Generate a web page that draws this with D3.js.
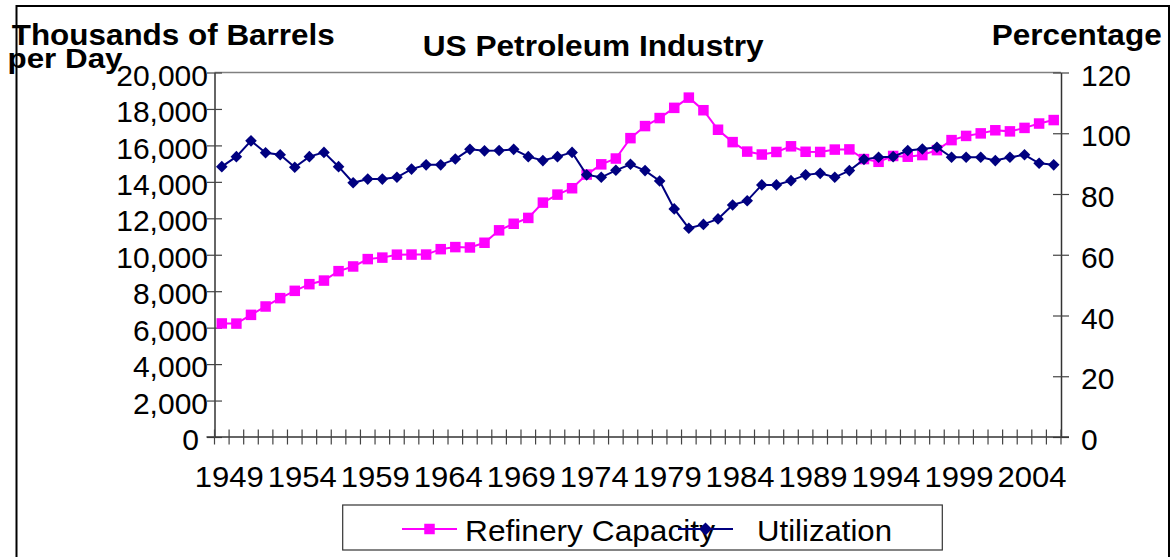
<!DOCTYPE html>
<html>
<head>
<meta charset="utf-8">
<script src="https://cdn.jsdelivr.net/npm/d3@7"></script>
<style>
  html, body { margin: 0; padding: 0; background: #fff; }
  svg { display: block; font-family: "Liberation Sans", Arial, sans-serif; }
</style>
</head>
<body>
<svg id="chart" width="1172" height="557"></svg>
<script>
const years = d3.range(1949, 2007).map(String);
const xTickLabels = ["1949","1954","1959","1964","1969","1974","1979","1984","1989","1994","1999","2004"];
const capacity = [6231,6223,6702,7161,7620,8020,8386,8583,9100,9357,9761,9843,10004,10010,10010,10306,10420,10400,10658,11340,11700,12021,12860,13300,13650,14400,14961,15280,16398,17060,17500,18060,18621,17930,16859,16180,15660,15500,15640,15950,15650,15640,15770,15780,15250,15100,15420,15380,15470,15740,16290,16520,16660,16830,16770,16960,17200,17390];
const utilization = [89.0,92.3,97.5,93.6,92.9,88.8,92.3,93.7,89.0,83.7,84.9,84.9,85.5,88.2,89.6,89.6,91.5,94.7,94.2,94.3,94.7,92.3,91.0,92.3,93.7,86.3,85.5,87.8,89.8,87.7,84.3,75.1,68.7,70.0,71.8,76.4,77.8,83.0,83.0,84.4,86.3,86.8,85.5,87.7,91.4,92.1,92.3,94.3,94.8,95.4,92.1,92.1,92.1,91.0,92.1,92.9,90.1,89.6];
const leftTicks = [0,2000,4000,6000,8000,10000,12000,14000,16000,18000,20000];
const rightTicks = [0,20,40,60,80,100,120];

const svg = d3.select("#chart");
const L = 214.5, R = 1061, T = 72.5, B = 437;

const x = d3.scaleBand().domain(years).range([L, R]).padding(0);
const yL = d3.scaleLinear().domain([0, 20000]).range([B, T]);
const yR = d3.scaleLinear().domain([0, 120]).range([B, T]);
const cx = d => x(d) + x.bandwidth() / 2;

// outer frame
svg.append("rect").attr("x", 16.5).attr("y", 6).attr("width", 1152.5).attr("height", 600)
  .attr("fill", "none").attr("stroke", "#000").attr("stroke-width", 2);

// plot top border
svg.append("line").attr("x1", L).attr("x2", R).attr("y1", T).attr("y2", T)
  .attr("stroke", "#808080").attr("stroke-width", 1.5);

// left axis
const gL = svg.append("g").attr("transform", `translate(${L},0)`)
  .call(d3.axisLeft(yL).tickValues(leftTicks).tickFormat(d3.format(",")).tickSizeInner(7.5).tickSizeOuter(0));
gL.select(".domain").attr("stroke", "#333").attr("stroke-width", 1.5);
gL.selectAll(".tick line").attr("stroke", "#444").attr("x2", 7.5).attr("x1", -7.5).attr("stroke-width", 1.2);
gL.selectAll(".tick text").attr("font-size", 30).attr("fill", "#000")
  .attr("font-family", "Liberation Sans, Arial, sans-serif")
  .attr("x", d => d === 0 ? -15.5 : -6.5)
  .attr("dy", "0.42em");

// right axis
const gR = svg.append("g").attr("transform", `translate(${R},0)`)
  .call(d3.axisRight(yR).tickValues(rightTicks).tickSizeInner(8).tickSizeOuter(0));
gR.select(".domain").attr("stroke", "#333").attr("stroke-width", 1.5);
gR.selectAll(".tick line").attr("stroke", "#444").attr("x1", -8).attr("x2", 8).attr("stroke-width", 1.2);
gR.selectAll(".tick text").attr("font-size", 30).attr("fill", "#000")
  .attr("font-family", "Liberation Sans, Arial, sans-serif")
  .attr("x", 20)
  .attr("dy", "0.42em");

// bottom axis: ticks at category boundaries
const boundaries = years.map(d => x(d)).concat([R]);
const gB = svg.append("g");
gB.append("line").attr("x1", L - 8).attr("x2", R + 8).attr("y1", B).attr("y2", B)
  .attr("stroke", "#333").attr("stroke-width", 1.5);
gB.selectAll("line.tk").data(boundaries).join("line").attr("class", "tk")
  .attr("x1", d => d).attr("x2", d => d).attr("y1", B - 7.5).attr("y2", B + 7.5)
  .attr("stroke", "#444").attr("stroke-width", 1.2);
gB.selectAll("text").data(xTickLabels).join("text")
  .attr("x", d => cx(d) + 7.5 - 34.5).attr("y", 487)
  .attr("font-size", 30).attr("fill", "#000")
  .attr("textLength", 69).attr("lengthAdjust", "spacingAndGlyphs")
  .text(d => d);

// series
const lineCap = d3.line().x((d, i) => cx(years[i])).y(d => yL(d));
const lineUtil = d3.line().x((d, i) => cx(years[i])).y(d => yR(d));
const PINK = "#FF00FF", NAVY = "#000080";

svg.append("path").datum(capacity).attr("d", lineCap)
  .attr("fill", "none").attr("stroke", PINK).attr("stroke-width", 2);
svg.selectAll("rect.cap").data(capacity).join("rect").attr("class", "cap")
  .attr("x", (d, i) => cx(years[i]) - 5.25).attr("y", d => yL(d) - 5.25)
  .attr("width", 10.5).attr("height", 10.5).attr("fill", PINK);

const diamond = "M0,-5.8L5.8,0L0,5.8L-5.8,0Z";
svg.append("path").datum(utilization).attr("d", lineUtil)
  .attr("fill", "none").attr("stroke", NAVY).attr("stroke-width", 2);
svg.selectAll("path.util").data(utilization).join("path").attr("class", "util")
  .attr("d", diamond)
  .attr("transform", (d, i) => `translate(${cx(years[i])},${yR(d)})`)
  .attr("fill", NAVY);

// titles
svg.append("text").attr("x", 422.7).attr("y", 56).attr("font-size", 29).attr("font-weight", "bold")
  .attr("textLength", 341).attr("lengthAdjust", "spacingAndGlyphs").text("US Petroleum Industry");
svg.append("text").attr("x", 11.7).attr("y", 45).attr("font-size", 29).attr("font-weight", "bold")
  .attr("textLength", 323).attr("lengthAdjust", "spacingAndGlyphs").text("Thousands of Barrels");
svg.append("text").attr("x", 7.5).attr("y", 68).attr("font-size", 28).attr("font-weight", "bold")
  .attr("textLength", 115).attr("lengthAdjust", "spacingAndGlyphs").text("per Day");
svg.append("text").attr("x", 991.7).attr("y", 45).attr("font-size", 29).attr("font-weight", "bold")
  .attr("textLength", 170).attr("lengthAdjust", "spacingAndGlyphs").text("Percentage");

// legend
const lg = svg.append("g");
lg.append("rect").attr("x", 342.7).attr("y", 505).attr("width", 599.6).attr("height", 45)
  .attr("fill", "#fff").attr("stroke", "#333").attr("stroke-width", 1.2);
lg.append("line").attr("x1", 402).attr("x2", 457).attr("y1", 529).attr("y2", 529)
  .attr("stroke", PINK).attr("stroke-width", 2);
lg.append("rect").attr("x", 429.5 - 5.25).attr("y", 529 - 5.25).attr("width", 10.5).attr("height", 10.5).attr("fill", PINK);
lg.append("text").attr("x", 465).attr("y", 541).attr("font-size", 30)
  .attr("textLength", 250).attr("lengthAdjust", "spacingAndGlyphs").text("Refinery Capacity");
lg.append("line").attr("x1", 678).attr("x2", 733).attr("y1", 529).attr("y2", 529)
  .attr("stroke", NAVY).attr("stroke-width", 2);
lg.append("path").attr("d", "M0,-6.5L6.5,0L0,6.5L-6.5,0Z").attr("transform", "translate(705.5,529)").attr("fill", NAVY);
lg.append("text").attr("x", 757).attr("y", 541).attr("font-size", 30)
  .attr("textLength", 135).attr("lengthAdjust", "spacingAndGlyphs").text("Utilization");
</script>
</body>
</html>
